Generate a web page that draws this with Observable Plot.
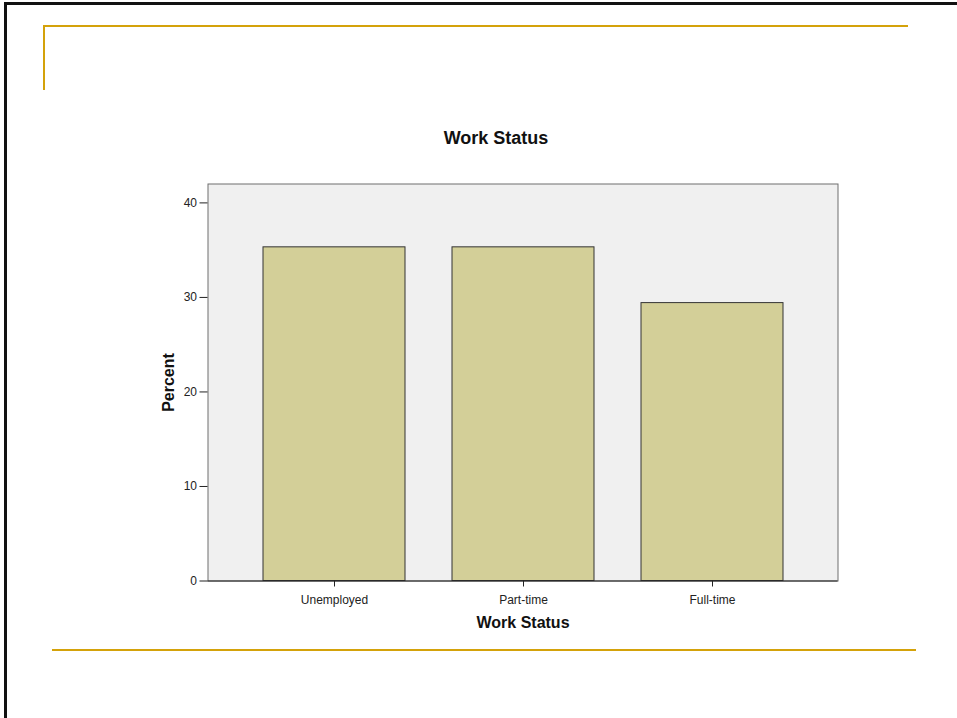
<!DOCTYPE html>
<html>
<head>
<meta charset="utf-8">
<script src="https://cdn.jsdelivr.net/npm/d3@7"></script>
<script src="https://cdn.jsdelivr.net/npm/@observablehq/plot@0.6"></script>
<style>
  html, body { margin: 0; padding: 0; background: #fff; }
  #slide { position: relative; width: 957px; height: 718px; overflow: hidden; font-family: "Liberation Sans", Arial, sans-serif; }
  .deco { position: absolute; }
  #chart { position: absolute; left: 0; top: 0; }
</style>
</head>
<body>
<div id="slide">
  <div id="chart"></div>
  <!-- slide frame and accent rules -->
  <div class="deco" style="left:4px; top:2px; width:3px; height:716px; background:#111;"></div>
  <div class="deco" style="left:4px; top:2px; width:953px; height:3px; background:#111;"></div>
  <div class="deco" style="left:43px; top:25px; width:865px; height:2px; background:#d4a20a;"></div>
  <div class="deco" style="left:43px; top:25px; width:2px; height:65px; background:#d4a20a;"></div>
  <div class="deco" style="left:52px; top:649px; width:864px; height:2px; background:#d4a20a;"></div>
</div>
<script>
const categories = ["Unemployed", "Part-time", "Full-time"];
const percents = [35.3, 35.3, 29.4];
const yTicks = [0, 10, 20, 30, 40];
const chartTitle = "Work Status";
const xTitle = "Work Status";
const yTitle = "Percent";

const data = categories.map((c, i) => ({category: c, percent: percents[i]}));

const chart = Plot.plot({
  width: 957,
  height: 718,
  marginLeft: 207.5,
  marginRight: 119.5,
  marginTop: 183.5,
  marginBottom: 137.5,
  style: {fontFamily: "'Liberation Sans', Arial, sans-serif", background: "transparent", overflow: "visible"},
  x: {domain: categories, paddingInner: 0.249, paddingOuter: 0.291},
  y: {domain: [0, 42]},
  marks: [
    Plot.frame({fill: "#f0f0f0", stroke: "#6e6e6e", strokeWidth: 1}),
    Plot.barY(data, {x: "category", y: "percent", fill: "#d3cf98", stroke: "#333", strokeWidth: 1}),
    Plot.ruleX([0], {frameAnchor: "left", stroke: "#222", strokeWidth: 1.2}),
    Plot.ruleY([0], {stroke: "#222", strokeWidth: 1.2}),
    Plot.axisY({ticks: yTicks, tickSize: 8, tickPadding: 3, fontSize: 12, label: null, stroke: "#222", color: "#222"}),
    Plot.axisX({tickSize: 6, tickPadding: 8, fontSize: 12, label: null, stroke: "#222", color: "#222"}),
    Plot.text([chartTitle], {frameAnchor: "top", dx: -27, dy: -46, fontSize: 18, fontWeight: "bold", fill: "#111", lineAnchor: "middle"}),
    Plot.text([xTitle], {frameAnchor: "bottom", dy: 41.5, fontSize: 16, fontWeight: "bold", fill: "#111", lineAnchor: "middle"}),
    Plot.text([yTitle], {frameAnchor: "left", dx: -39.5, rotate: -90, textAnchor: "middle", fontSize: 16, fontWeight: "bold", fill: "#111", lineAnchor: "middle"})
  ]
});
document.getElementById("chart").appendChild(chart);
</script>
</body>
</html>
